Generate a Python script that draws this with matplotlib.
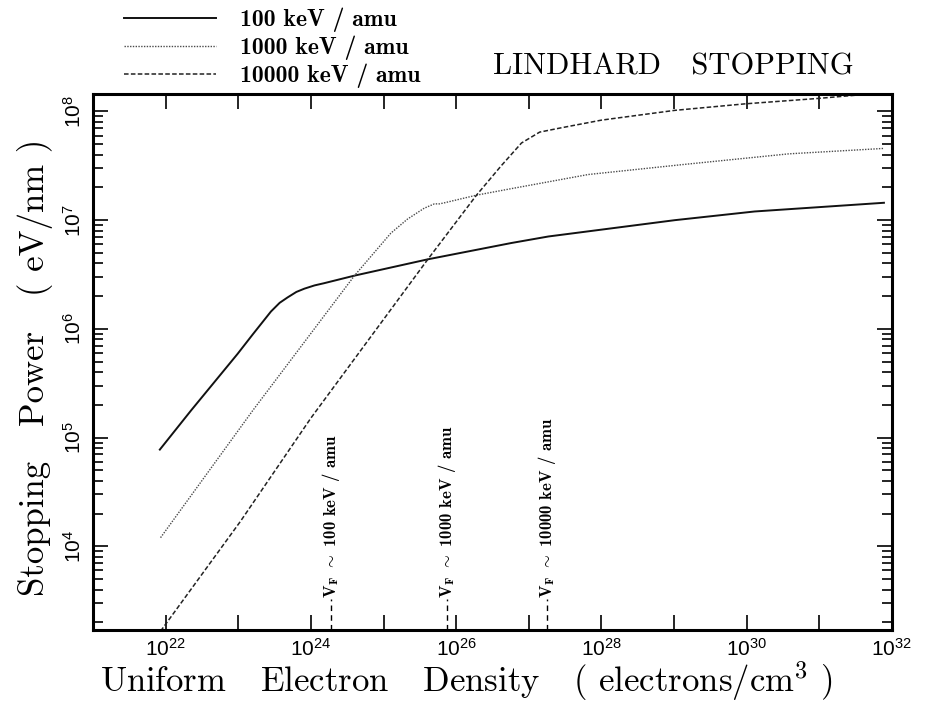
import matplotlib
matplotlib.use('Agg')
import matplotlib.pyplot as plt
import matplotlib.ticker as mticker
import matplotlib.transforms as mtransforms
import numpy as np

plt.rcParams['font.family'] = ['cmr10', 'DejaVu Serif']
plt.rcParams['mathtext.fontset'] = 'cm'
plt.rcParams['axes.formatter.use_mathtext'] = True

# log10 of electron density (cm^-3) and stopping power (eV/nm)
logn_100 = [21.92, 22.35, 22.99, 23.20, 23.45, 23.57, 23.68, 23.80, 23.91, 24.05, 24.18, 24.60, 25.61, 26.76, 27.27, 29.01, 30.11, 31.89]
logs_100 = [4.89, 5.25, 5.77, 5.95, 6.16, 6.24, 6.29, 6.34, 6.37, 6.40, 6.42, 6.49, 6.64, 6.79, 6.85, 7.00, 7.08, 7.16]

logn_1000 = [21.93, 23.20, 24.60, 25.10, 25.33, 25.56, 25.70, 25.77, 25.84, 26.28, 26.76, 27.82, 29.10, 30.58, 31.89]
logs_1000 = [4.08, 5.25, 6.49, 6.88, 7.01, 7.11, 7.15, 7.15, 7.16, 7.23, 7.29, 7.42, 7.51, 7.61, 7.66]

logn_10000 = [21.93, 23.03, 24.00, 25.61, 26.28, 26.62, 26.90, 27.05, 27.15, 27.45, 28.00, 29.01, 29.98, 30.99, 31.86]
logs_10000 = [3.22, 4.23, 5.18, 6.64, 7.23, 7.50, 7.71, 7.77, 7.81, 7.85, 7.92, 8.01, 8.07, 8.12, 8.17]

labels = ['100 keV / amu', '1000 keV / amu', '10000 keV / amu']
# Fermi velocity markers (log10 density)
vf_logn = [24.28, 25.87, 27.25]
vf_labels = ['100 keV / amu', '1000 keV / amu', '10000 keV / amu']

fig = plt.figure(figsize=(9.32, 7.06), dpi=100)
ax = fig.add_axes([0.0998, 0.1076, 0.8572, 0.7594])

l1, = ax.plot(10 ** np.array(logn_100), 10 ** np.array(logs_100), color='#111111', lw=1.4, ls='-')
l2, = ax.plot(10 ** np.array(logn_1000), 10 ** np.array(logs_1000), color='#4a4a4a', lw=1.0, ls=(0, (1, 1)))
l3, = ax.plot(10 ** np.array(logn_10000), 10 ** np.array(logs_10000), color='#222222', lw=1.1, ls=(0, (3, 1.5)))

ax.set_xscale('log')
ax.set_yscale('log')
ax.set_xlim(1e21, 1e32)
ax.set_ylim(1.7e3, 1.45e8)

ax.xaxis.set_major_locator(mticker.LogLocator(base=10, numticks=20))
ax.xaxis.set_minor_locator(mticker.NullLocator())
ax.xaxis.set_major_formatter(mticker.FuncFormatter(
    lambda v, p: r'$\mathdefault{10^{%d}}$' % round(np.log10(v)) if round(np.log10(v)) % 2 == 0 else ''))
ax.yaxis.set_major_locator(mticker.LogLocator(base=10, numticks=20))
ax.yaxis.set_minor_locator(mticker.LogLocator(base=10, subs=np.arange(2, 10), numticks=20))
ax.yaxis.set_minor_formatter(mticker.NullFormatter())
ax.yaxis.set_major_formatter(mticker.FuncFormatter(lambda v, p: r'$\mathdefault{10^{%d}}$' % round(np.log10(v))))

ax.tick_params(which='both', direction='in', top=True, right=True, width=1.2)
ax.tick_params(which='major', length=11)
ax.tick_params(which='minor', length=7)
ax.tick_params(axis='both', labelfontfamily='Liberation Sans')
ax.tick_params(axis='x', labelsize=15, pad=6)
ax.tick_params(axis='y', labelsize=15, pad=6, labelrotation=90)
for lab in ax.get_yticklabels():
    lab.set_va('center')
for s in ax.spines.values():
    s.set_linewidth(2.2)

ax.set_xlabel('Uniform   Electron   Density   ( electrons/cm$^3$ )', fontsize=25, va='top')
ax.xaxis.set_label_coords(0.467, -0.055)
ax.set_ylabel('Stopping   Power   ( eV/nm )', fontsize=25)
ax.yaxis.set_label_coords(-0.05, 0.49)

trans = mtransforms.blended_transform_factory(ax.transData, ax.transAxes)
for xv, txt in zip(vf_logn, vf_labels):
    ax.plot([10 ** xv, 10 ** xv], [0, 0.058], transform=trans, color='black', lw=1.0, ls=(0, (4, 3)))
    ax.text(10 ** xv, 0.06, r'$\mathbf{V_F}$ $\sim$ ' + txt, transform=trans, rotation=90,
            ha='center', va='bottom', fontsize=12, fontfamily=['cmb10', 'DejaVu Serif'])

fig.text(0.722, 0.894, 'LINDHARD   STOPPING', fontsize=22, ha='center', va='baseline')

fig.legend([l1, l2, l3], labels, loc='upper left', bbox_to_anchor=(0.133, 0.989),
           frameon=False, borderpad=0, borderaxespad=0, handlelength=3.9, handletextpad=1.0,
           labelspacing=0.15, prop={'family': ['cmb10', 'DejaVu Serif'], 'size': 17})

fig.savefig('out.png', dpi=100)
